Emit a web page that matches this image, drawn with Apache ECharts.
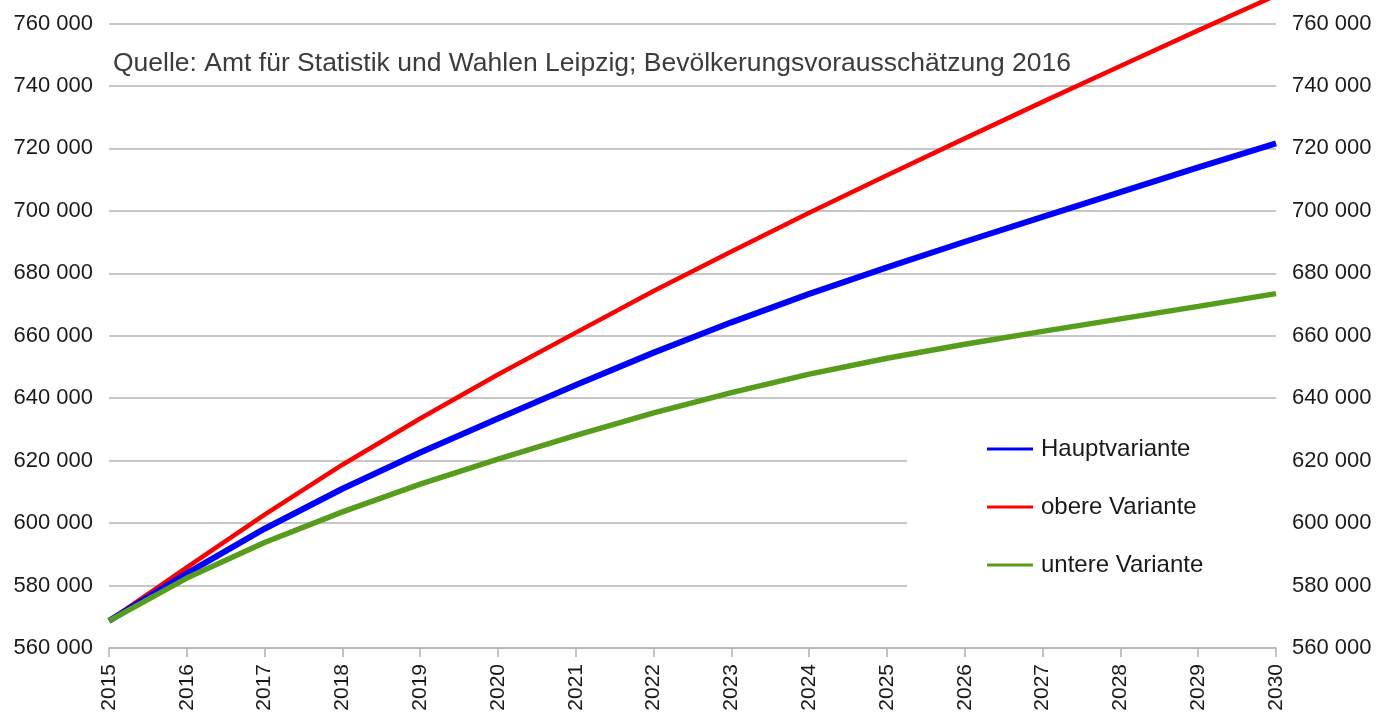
<!DOCTYPE html>
<html>
<head>
<meta charset="utf-8">
<script src="https://cdn.jsdelivr.net/npm/echarts@6/dist/echarts.min.js"></script>
<style>
  html, body { margin: 0; padding: 0; background: #fff; }
  #main { width: 1376px; height: 715px; }
</style>
</head>
<body>
<div id="main"></div>
<script>
// Jahre (x-Achse)
var jahre = ['2015', '2016', '2017', '2018', '2019', '2020', '2021', '2022',
             '2023', '2024', '2025', '2026', '2027', '2028', '2029', '2030'];

// Bevölkerungsvorausschätzung Leipzig
var hauptvariante = [568700, 583900, 598200, 611000, 622600, 633500, 644200, 654600,
                     664300, 673400, 681900, 690100, 698100, 706000, 713900, 721600];
var obereVariante = [568700, 585800, 602700, 618700, 633500, 647600, 661000, 674300,
                     687000, 699400, 711400, 723200, 734900, 746400, 757800, 769000];
var untereVariante = [568700, 582400, 593800, 603600, 612500, 620500, 628100, 635300,
                      641800, 647700, 652800, 657300, 661400, 665400, 669400, 673500];

var achseMin = 560000;
var achseMax = 760000;
var achseSchritt = 20000;

var quelle = 'Quelle: Amt für Statistik und Wahlen Leipzig; Bevölkerungsvorausschätzung 2016';

var font = 'Liberation Sans';

function tausender(v) {
    return String(v).replace(/\B(?=(\d{3})+(?!\d))/g, ' ');
}

var myChart = echarts.init(document.getElementById('main'));

var yLabel = {
    formatter: tausender,
    color: '#1a1a1a',
    fontSize: 22,
    fontFamily: font,
    margin: 16
};

var option = {
    animation: false,
    backgroundColor: '#fff',
    grid: {
        left: 109,
        right: 100,
        top: 23.5,
        bottom: 67,
        containLabel: false
    },
    graphic: [{
        type: 'text',
        left: 113,
        top: 50,
        z: 10,
        style: {
            text: quelle,
            fill: '#3c3c3c',
            font: '26.5px "Liberation Sans"'
        }
    }],
    legend: {
        orient: 'vertical',
        left: 907,
        top: 418,
        backgroundColor: '#fff',
        padding: [18, 76, 40, 80],
        itemGap: 32,
        itemWidth: 46,
        itemHeight: 3,
        icon: 'rect',
        textStyle: {
            color: '#1a1a1a',
            fontSize: 24,
            fontFamily: font,
            lineHeight: 26,
            padding: [0, 0, 0, 3]
        },
        data: ['Hauptvariante', 'obere Variante', 'untere Variante']
    },
    xAxis: {
        type: 'category',
        data: jahre,
        boundaryGap: false,
        axisLine: { show: true, lineStyle: { color: '#b3b3b3', width: 1.5 } },
        axisTick: { show: true, length: 9, alignWithLabel: true, lineStyle: { color: '#b3b3b3', width: 1.5 } },
        axisLabel: {
            rotate: 90,
            color: '#1a1a1a',
            fontSize: 21,
            fontFamily: font,
            margin: 16,
            interval: 0
        },
        splitLine: { show: false }
    },
    yAxis: [{
        type: 'value',
        position: 'left',
        min: achseMin,
        max: achseMax,
        interval: achseSchritt,
        axisLine: { show: false },
        axisTick: { show: false },
        axisLabel: yLabel,
        splitLine: { show: true, lineStyle: { color: '#b3b3b3', width: 1.5 } }
    }, {
        type: 'value',
        position: 'right',
        min: achseMin,
        max: achseMax,
        interval: achseSchritt,
        axisLine: { show: false },
        axisTick: { show: false },
        axisLabel: yLabel,
        splitLine: { show: false }
    }],
    series: [{
        name: 'Hauptvariante',
        type: 'line',
        data: hauptvariante,
        symbol: 'none',
        smooth: false,
        clip: false,
        color: '#0000ff',
        lineStyle: { color: '#0000ff', width: 6 },
        z: 3
    }, {
        name: 'obere Variante',
        type: 'line',
        data: obereVariante,
        symbol: 'none',
        smooth: false,
        clip: false,
        color: '#ff0000',
        lineStyle: { color: '#ff0000', width: 4.5 },
        z: 2
    }, {
        name: 'untere Variante',
        type: 'line',
        data: untereVariante,
        symbol: 'none',
        smooth: false,
        clip: false,
        color: '#579d1c',
        lineStyle: { color: '#579d1c', width: 5.5 },
        z: 4
    }]
};

myChart.setOption(option);
</script>
</body>
</html>
